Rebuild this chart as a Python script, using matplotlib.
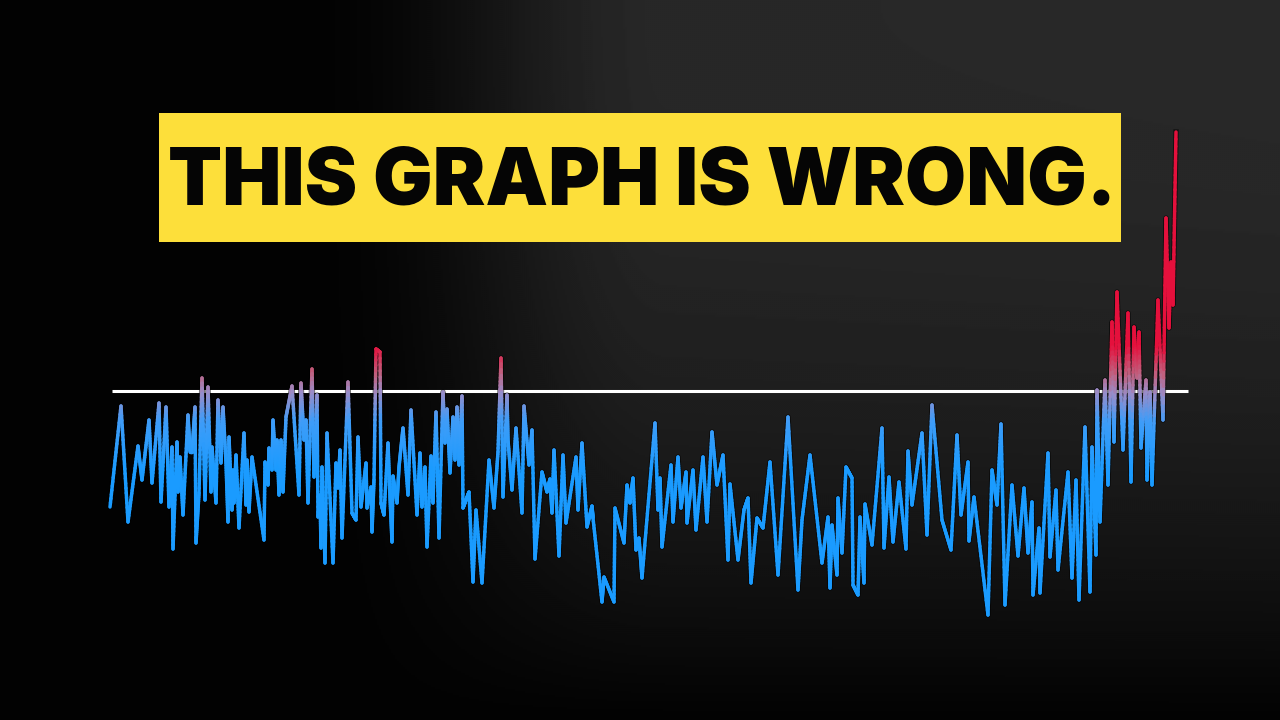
import numpy as np
import matplotlib
matplotlib.use('Agg')
import matplotlib.pyplot as plt
from matplotlib.collections import LineCollection
from matplotlib.colors import LinearSegmentedColormap, Normalize
from matplotlib.patches import Rectangle
from matplotlib import font_manager

# ================= data =================
# t: position along the series, v: anomaly relative to the white reference line
T = [0, 11, 18, 28, 32, 39, 42, 49, 51, 56, 59, 62, 63, 67, 68, 70, 73, 78, 80, 82,
     85, 86, 89, 92, 95, 98, 101, 102, 106, 108, 111, 113, 116, 118,
     119, 122, 123, 124, 126, 129, 134, 136, 137, 139, 142, 154, 155, 158, 159, 162,
     163, 166, 167, 169, 171, 173, 176, 182, 189, 191, 194, 196, 198, 202, 204, 207,
     208, 210, 211, 212, 215, 217, 223, 226, 228, 230, 232, 238,
     242, 246, 248, 251, 256, 257, 261, 262, 264, 266, 270, 271, 274, 278, 280, 282,
     283, 287, 289, 293, 298, 301, 307, 310, 312, 315, 317, 321, 323, 326, 329, 333,
     335, 337, 340, 343, 345, 347, 349, 352, 353, 356,
     359, 363, 366, 372, 379, 384, 388, 391, 393, 397, 398, 402, 406, 412, 414, 419,
     422, 425, 432, 437, 440, 442, 444, 449, 453, 456, 466, 468, 472, 477,
     482, 483, 492, 494, 504, 505, 514, 517, 520, 523, 526, 529, 532, 545, 548, 550,
     552, 561, 563, 568, 571, 576, 577, 583, 586, 593, 597,
     602, 607, 613, 618, 620, 628, 634, 638, 641, 647, 653, 660, 668, 678, 688, 692,
     700, 712, 718,
     720, 722, 727, 728, 732, 736, 742, 743, 748, 750, 754, 755, 762, 772, 774, 779,
     783, 789, 796, 798, 802, 812, 817, 822, 832, 841,
     847, 851, 858, 859, 864, 878, 882, 887, 891, 895, 902, 908, 914, 918, 922, 923,
     929, 930, 938, 940, 946, 948, 958,
     962, 966, 969, 975, 980, 982, 986, 987, 990, 995, 998, 1002, 1004, 1007, 1013, 1018,
     1021, 1024, 1027, 1029, 1031, 1036, 1037, 1040, 1042, 1048, 1053, 1056, 1059, 1061,
     1063, 1066]
V = [-1.16, -0.15, -1.31, -0.55, -0.89, -0.29, -0.92, -0.12, -1.11, -0.16, -1.16, -0.56,
     -1.58, -0.51, -1.01, -0.66, -1.24, -0.24, -0.61, -0.61, -0.16, -1.52, -1.02, 0.13,
     -1.09, 0.04, -1.01, -0.56, -1.12, -0.09, -0.72, -0.16, -0.72, -1.31,
     -0.46, -1.19, -0.79, -1.12, -0.64, -1.37, -0.42, -1.14, -0.69, -1.21, -0.66, -1.49,
     -0.71, -0.94, -0.57, -0.79, -0.29, -0.79, -0.49, -1.04, -0.49, -1.01, -0.26, 0.05,
     -1.04, 0.08, -0.49, -0.29, -1.12, 0.22, -0.86, -0.04, -1.26, -1.04, -1.57, -0.76,
     -1.72, -0.42, -1.72, -0.72, -0.97, -0.59, -1.47, 0.09,
     -1.22, -1.29, -0.46, -1.16, -0.72, -1.17, -0.96, -1.41, -0.89, 0.42, 0.39, -1.12,
     -1.24, -0.52, -1.06, -1.51, -0.85, -1.12, -0.76, -0.37, -1.04, -0.19, -1.24, -0.62,
     -1.16, -0.76, -1.56, -0.65, -1.12, -0.21, -1.47, -0.01, -0.52, -0.18, -0.82, -0.26,
     -0.69, -0.16, -0.74, -0.05, -1.17, -1.09,
     -1.01, -1.91, -1.19, -1.92, -0.69, -1.17, -0.61, 0.33, -1.06, -0.04, -0.49, -0.99,
     -0.37, -1.22, -0.15, -0.74, -0.39, -1.68, -0.81, -1.01, -0.88, -1.22, -0.59, -1.65,
     -0.64, -1.32, -0.66, -1.19, -0.52, -1.36,
     -1.15, -1.27, -2.11, -1.86, -2.11, -1.17, -1.52, -0.94, -1.12, -0.87, -1.59, -1.47,
     -1.87, -0.32, -1.19, -0.87, -1.56, -0.74, -1.31, -0.66, -1.17, -0.81, -1.32, -0.79,
     -1.39, -0.66, -1.31,
     -0.41, -0.94, -0.64, -1.69, -0.93, -1.69, -1.19, -1.07, -1.92, -1.27, -1.37, -0.71,
     -1.84, -0.26, -1.99, -1.29, -0.64, -1.72, -1.26,
     -1.97, -1.34, -1.84, -1.07, -1.62, -0.76, -0.87, -1.94, -2.04, -1.26, -1.92, -1.13,
     -1.54, -0.37, -1.57, -0.86, -1.51, -0.91, -1.58, -0.60, -1.14, -0.42, -1.44, -0.14,
     -1.29, -1.59,
     -0.44, -1.24, -0.71, -1.50, -1.06, -2.24, -0.79, -1.14, -0.33, -2.14, -0.94, -1.65,
     -0.97, -1.62, -1.11, -2.04, -1.37, -2.02, -0.62, -1.66, -0.99, -1.79, -0.81,
     -1.87, -0.89, -2.09, -0.36, -2.01, -0.56, -1.64, 0.01, -1.31, 0.11, -0.94, 0.69,
     -0.51, 0.99, -0.59, 0.78, -0.91, 0.64, 0.13, 0.59, -0.57, 0.11, -0.89, -0.01,
     -0.94, 0.91, -0.29, 1.73, 0.63, 1.29, 0.86, 2.59]

TITLE = 'THIS GRAPH IS WRONG.'
BASELINE = 0.0

BLUE = '#1a9bff'
RED = '#e5103c'
YELLOW = '#fddf3a'


def pick_heavy_font():
    # look for the heaviest installed sans family
    for fam in ['Inter', 'Lato', 'Roboto', 'Open Sans', 'Noto Sans', 'DejaVu Sans']:
        ws = [f.weight for f in font_manager.fontManager.ttflist if f.name == fam]
        ws = [w for w in ws if isinstance(w, int)]
        if ws and max(ws) >= 800:
            return fam, max(ws)
    return 'DejaVu Sans', 'bold'


fig = plt.figure(figsize=(12.8, 7.2), dpi=100)
ax = fig.add_axes([0, 0, 1, 1])
XLIM = (-110, 1170)
YLIM = (-3.29, 3.91)
ax.set_xlim(*XLIM)
ax.set_ylim(*YLIM)
ax.axis('off')

# dark background: black on the left and bottom, dark grey toward the upper right
gx = np.linspace(0, 1, 640)
gy = np.linspace(0, 1, 360)
X, Y = np.meshgrid(gx, gy)
s = np.clip((X - 0.25) / 0.27, 0, 1)
s = s * s * (3 - 2 * s)
g = np.clip(1 - Y ** 2.3, 0, 1)
bg = 0.008 + 0.14 * s * g + 0.012 * X * g
ax.imshow(bg, extent=(*XLIM, *YLIM), origin='upper', aspect='auto',
          cmap='gray', vmin=0, vmax=1, zorder=0, interpolation='bilinear')

# white reference line
ax.hlines(BASELINE, T[0] + 2, T[-1] + 12, color='white', lw=2.2, zorder=2)

# the series, coloured by value (blue -> purple -> red)
cmap = LinearSegmentedColormap.from_list(
    'temp', [(0.0, BLUE), (0.4, '#3f9cf8'), (0.62, '#9a8cc8'), (0.78, '#c0607e'), (1.0, RED)])
norm = Normalize(-0.8, 0.45)

t = np.array(T, dtype=float)
v = np.array(V, dtype=float)
ax.plot(t, v, color='black', lw=3.9, alpha=0.55, solid_joinstyle='round', zorder=3)

pieces, vals = [], []
for i in range(len(t) - 1):
    f = np.linspace(0, 1, 25)
    xs = t[i] + (t[i + 1] - t[i]) * f
    ys = v[i] + (v[i + 1] - v[i]) * f
    for k in range(len(f) - 1):
        pieces.append([(xs[k], ys[k]), (xs[k + 1], ys[k + 1])])
        vals.append(0.5 * (ys[k] + ys[k + 1]))
lc = LineCollection(pieces, cmap=cmap, norm=norm, linewidths=2.5,
                    capstyle='round', joinstyle='round', zorder=4)
lc.set_array(np.array(vals))
ax.add_collection(lc)

# yellow title box
ax.add_patch(Rectangle((0.1242, 0.664), 0.7516, 0.179, transform=ax.transAxes,
                       facecolor=YELLOW, edgecolor='none', zorder=5))
fam, wt = pick_heavy_font()
txt = ax.text(0.502, 0.7153, TITLE, transform=ax.transAxes, ha='center', va='baseline',
              fontsize=60, family=fam, fontweight=wt, color='#050505', zorder=6)
r = fig.canvas.get_renderer()
w = txt.get_window_extent(r).width
txt.set_fontsize(60 * 947 / w)

fig.savefig('out.png', dpi=100, facecolor='black')
